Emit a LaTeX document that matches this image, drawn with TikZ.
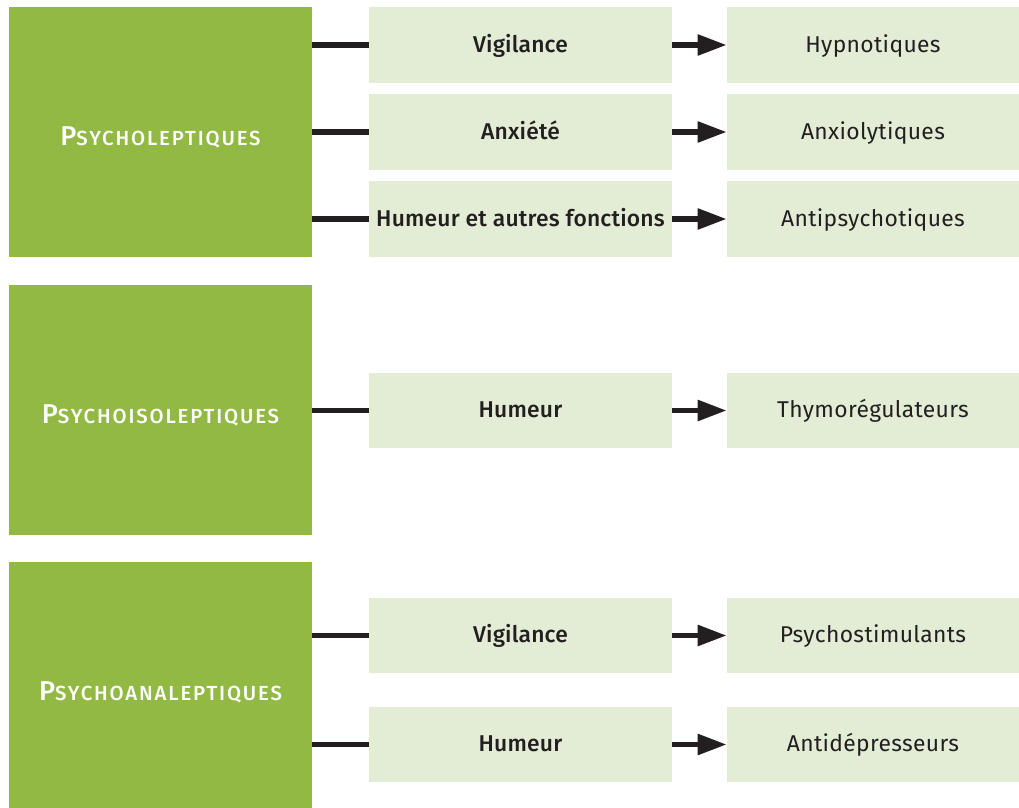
\documentclass[tikz,border=0pt]{standalone}
\usepackage{fontspec}
\setmainfont{Fira Sans}[LetterSpace=1.5]
\newfontfamily\medfont{Fira Sans Medium}[LetterSpace=0.8]
\newfontfamily\catfont{Fira Sans Medium}[LetterSpace=9]
\usetikzlibrary{arrows.meta, positioning}
\definecolor{catgreen}{RGB}{146,185,67}
\definecolor{palegreen}{RGB}{227,237,214}
\definecolor{linkdark}{RGB}{35,31,32}
\newcommand{\catname}[2]{{\fontsize{15.5}{18}\selectfont #1}{\fontsize{11.6}{14}\selectfont #2}}

\begin{document}
\begin{tikzpicture}[x=0.02cm, y=-0.02cm,
    catbox/.style={fill=catgreen, minimum width=6.06cm, minimum height=5cm, inner sep=0pt},
    cattext/.style={text=white, font=\catfont, inner sep=0pt},
    fnbox/.style={fill=palegreen, minimum width=6.06cm, minimum height=1.52cm, inner sep=0pt, text height=10pt, text depth=2pt, font=\fontsize{13}{15}\selectfont\medfont, text=linkdark},
    drugbox/.style={fill=palegreen, minimum width=5.84cm, minimum height=1.52cm, inner sep=0pt, text height=10pt, text depth=2pt, font=\fontsize{13}{15}\selectfont, text=linkdark},
    link/.style={line width=0.11cm, linkdark},
    arrowlink/.style={link, -{Triangle[length=0.58cm, width=0.4cm]}}]
    \useasboundingbox (0,0) rectangle (1019,808);

    % Categories
    \node[catbox] (psycholep) at (160.5,132) {};
    \node[cattext] at ([yshift=-0.1cm]psycholep.center) {\catname{P}{SYCHOLEPTIQUES}};
    \node[catbox] (psychoiso) at (160.5,410) {};
    \node[cattext] at ([yshift=-0.1cm]psychoiso.center) {\catname{P}{SYCHOISOLEPTIQUES}};
    \node[catbox] (psychoana) at (160.5,687) {};
    \node[cattext] at ([yshift=-0.1cm]psychoana.center) {\catname{P}{SYCHOANALEPTIQUES}};

    % Functions
    \node[fnbox] (vigil1) at (520.5,45) {Vigilance};
    \node[fnbox] (anxiete) at (520.5,132) {Anxiété};
    \node[fnbox] (humeur1) at (520.5,219) {Humeur et autres fonctions};
    \node[fnbox] (humeur2) at (520.5,410.5) {Humeur};
    \node[fnbox] (vigil3) at (520.5,635.5) {Vigilance};
    \node[fnbox] (humeur3) at (520.5,744.5) {Humeur};

    % Drugs
    \node[drugbox] (hypno) at (873,45) {Hypnotiques};
    \node[drugbox] (anxio) at (873,132) {Anxiolytiques};
    \node[drugbox] (antipsy) at (873,219) {Antipsychotiques};
    \node[drugbox] (thymo) at (873,410.5) {Thymorégulateurs};
    \node[drugbox] (stimul) at (873,635.5) {Psychostimulants};
    \node[drugbox] (antidep) at (873,744.5) {Antidépresseurs};

    % Links category -> function
    \draw[link] (psycholep.east |- vigil1.west) -- (vigil1.west);
    \draw[link] (psycholep.east |- anxiete.west) -- (anxiete.west);
    \draw[link] (psycholep.east |- humeur1.west) -- (humeur1.west);
    \draw[link] (psychoiso.east |- humeur2.west) -- (humeur2.west);
    \draw[link] (psychoana.east |- vigil3.west) -- (vigil3.west);
    \draw[link] (psychoana.east |- humeur3.west) -- (humeur3.west);

    % Arrows function -> drug
    \draw[arrowlink] (vigil1) -- (hypno);
    \draw[arrowlink] (anxiete) -- (anxio);
    \draw[arrowlink] (humeur1) -- (antipsy);
    \draw[arrowlink] (humeur2) -- (thymo);
    \draw[arrowlink] (vigil3) -- (stimul);
    \draw[arrowlink] (humeur3) -- (antidep);
\end{tikzpicture}
\end{document}
